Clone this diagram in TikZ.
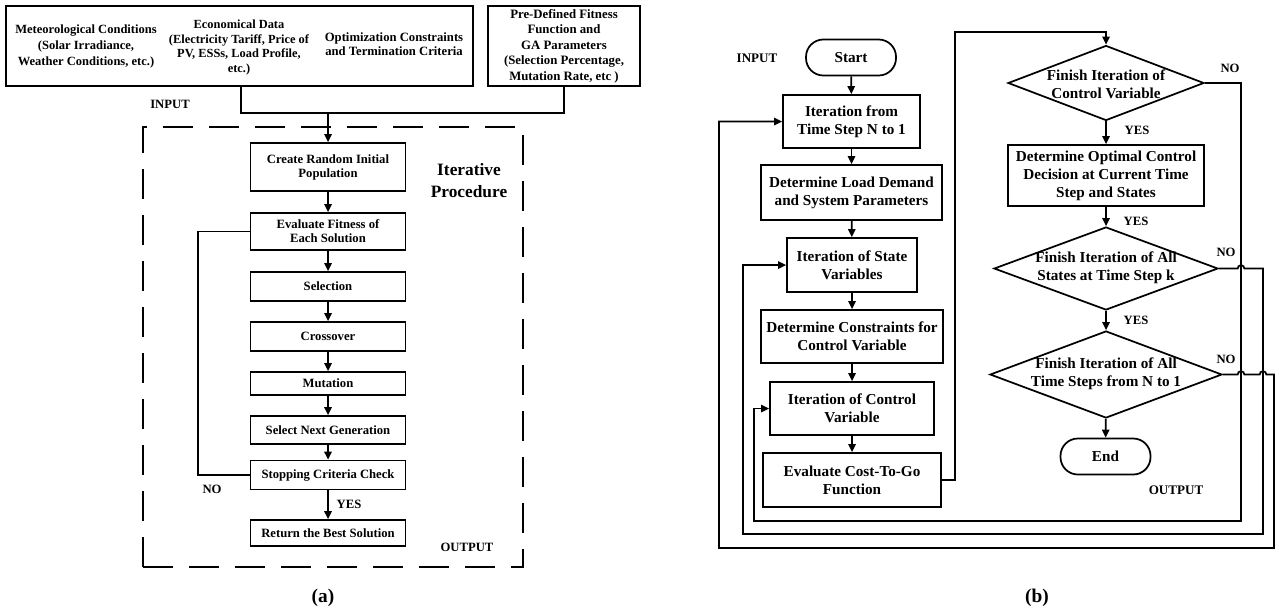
\documentclass[tikz,border=0pt]{standalone}
\usepackage{fontspec}
\setmainfont{Liberation Serif}
\usetikzlibrary{arrows.meta,shapes.geometric}

\tikzset{
  arr/.style={-{Triangle[length=6pt,width=5.5pt]}},
  sz/.style 2 args={minimum width=#1*0.75pt, minimum height=#2*0.75pt},
  box/.style={draw, rectangle, inner sep=0pt, align=center},
  txt/.style={inner sep=0pt, align=center},
  lfont/.style={font=\bfseries\fontsize{9.5}{10.5}\selectfont},
  rfont/.style={font=\bfseries\fontsize{11.4}{13.5}\selectfont},
  tag/.style={inner sep=0pt, font=\bfseries\fontsize{9.5}{11}\selectfont},
  lstep/.style={box, lfont, sz={155}{#1}},
  rstep/.style={box, rfont, minimum height=#1*0.75pt},
  dia/.style={draw, diamond, inner sep=0pt},
  term/.style={draw, rectangle, rounded corners=13pt, inner sep=0pt, rfont, sz={90}{36}},
  subcap/.style={inner sep=0pt, font=\bfseries\fontsize{14.5}{16}\selectfont}
}

\begin{document}
\begin{tikzpicture}[x=0.75pt,y=-0.75pt, line width=1.3pt]
\useasboundingbox (0,0) rectangle (1276,612);

% ---------------- (a) genetic algorithm ----------------
% input boxes
\node[box, sz={467}{80}] (inbox) at (239.5,46) {};
\node[txt, font=\bfseries\fontsize{9.4}{12}\selectfont] (meteo) at (86,46)
  {Meteorological Conditions\\(Solar Irradiance,\\Weather Conditions, etc.)};
\node[txt, font=\bfseries\fontsize{9.3}{11.2}\selectfont] (econ) at (239,47.5)
  {Economical Data\\(Electricity Tariff, Price of\\PV, ESSs, Load Profile,\\etc.)};
\node[txt, font=\bfseries\fontsize{9.5}{10.5}\selectfont] (optc) at (394,44)
  {Optimization Constraints\\and Termination Criteria};
\node[box, sz={152}{80}, font=\bfseries\fontsize{9.6}{11.6}\selectfont] (fitbox) at (564,46)
  {Pre-Defined Fitness\\Function and\\GA Parameters\\(Selection Percentage,\\Mutation Rate, etc )};

\node[tag] (inA) at (170,104) {INPUT};

% iterative procedure frame
\node[draw, dash pattern=on 22.5pt off 12pt, sz={380}{440}, inner sep=0pt] (iterbox) at (333,347) {};
\node[txt, font=\bfseries\fontsize{13}{16.5}\selectfont] (itlbl) at (469,181) {Iterative\\Procedure};

% GA steps
\node[lstep=48] (create)  at (328,167)   {Create Random Initial\\Population};
\node[lstep=37] (evalfit) at (328,231.5) {Evaluate Fitness of\\Each Solution};
\node[lstep=29] (selec)   at (328,286.5) {Selection};
\node[lstep=29] (cross)   at (328,336.5) {Crossover};
\node[lstep=23] (mut)     at (328,383.5) {Mutation};
\node[lstep=28] (selnext) at (328,430)   {Select Next Generation};
\node[lstep=29] (stopc)   at (328,475)   {Stopping Criteria Check};
\node[lstep=26] (retbest) at (328,533)   {Return the Best Solution};

% joining the inputs
\coordinate (jl) at (241,113);
\coordinate (jm) at (328,113);
\draw (inbox.south -| jl) -- (jl) -| (fitbox.south);
\draw[arr] (jm) -- (create.north);

\draw[arr] (create) -- (evalfit);
\draw[arr] (evalfit) -- (selec);
\draw[arr] (selec) -- (cross);
\draw[arr] (cross) -- (mut);
\draw[arr] (mut) -- (selnext);
\draw[arr] (selnext) -- (stopc);
\draw[arr] (stopc) -- (retbest);

\coordinate (lp) at (198,475);
\draw (stopc.west) -- (lp) |- (evalfit.west);

\node[tag] (noA)  at (212,489) {NO};
\node[tag] (yesA) at (349,504) {YES};
\node[tag] (outA) at (467,547) {OUTPUT};
\node[subcap] (capA) at (323,598) {(a)};

% ---------------- (b) dynamic programming ----------------
\node[tag, font=\bfseries\fontsize{9.8}{11}\selectfont] (inB) at (757,58) {INPUT};
\node[term] (start) at (851,57.5) {Start};

\node[rstep=53, minimum width=137*0.75pt] (iterN)  at (851.5,121.5) {Iteration from\\Time Step N to 1};
\node[rstep=55, minimum width=181*0.75pt] (loadD)  at (851.5,192.5) {Determine Load Demand\\and System Parameters};
\node[rstep=54, minimum width=130*0.75pt] (stateI) at (852,265)     {Iteration of State\\Variables};
\node[rstep=53, minimum width=182*0.75pt] (consD)  at (852,336.5)   {Determine Constraints for\\Control Variable};
\node[rstep=53, minimum width=164*0.75pt] (ctrlI)  at (852,408.5)   {Iteration of Control\\Variable};
\node[rstep=54, minimum width=178*0.75pt] (costE)  at (852,480)     {Evaluate Cost-To-Go\\Function};

\node[dia, sz={196}{75}] (d1) at (1106,83) {};
\node[txt, rfont] (d1t) at (1106,84) {Finish Iteration of\\Control Variable};
\node[rstep=61, minimum width=196*0.75pt] (optD) at (1106,175.5)
  {Determine Optimal Control\\Decision at Current Time\\Step and States};
\node[dia, sz={224}{83}] (d2) at (1106,268.5) {};
\node[txt, rfont] (d2t) at (1106,268) {Finish Iteration of All\\States at Time Step k};
\node[dia, sz={232}{87}] (d3) at (1106,374.5) {};
\node[txt, rfont] (d3t) at (1106,374) {Finish Iteration of All\\Time Steps from N to 1};
\node[term] (finish) at (1105.5,456.5) {End};

% main flow
\draw[arr] (start) -- (iterN);
\draw[arr] (iterN) -- (loadD);
\draw[arr] (loadD) -- (stateI);
\draw[arr] (stateI) -- (consD);
\draw[arr] (consD) -- (ctrlI);
\draw[arr] (ctrlI) -- (costE);

\coordinate (t1) at (955,32);
\draw[arr] (costE.east) -| (t1) -| (d1.north);

\draw[arr] (d1) -- (optD);
\draw[arr] (optD) -- (d2);
\draw[arr] (d2) -- (d3);
\draw[arr] (d3) -- (finish);

% feedback loops
\coordinate (c3) at (1241,521);
\coordinate (c2) at (1263,534);
\coordinate (c1) at (1274,548);
\coordinate (l3) at (754,521);
\coordinate (l2) at (743,534);
\coordinate (l1) at (719,548);

\draw[arr] (d1.east) -| (c3) -- (l3) |- (ctrlI.west);
\draw[arr] (d2.east) -- ([xshift=-2.5pt]d2.east -| c3)
  arc[start angle=180, end angle=0, radius=2.5pt] -| (c2) -- (l2) |- (stateI.west);
\draw[arr] (d3.east) -- ([xshift=-2.5pt]d3.east -| c3)
  arc[start angle=180, end angle=0, radius=2.5pt] -- ([xshift=-2.5pt]d3.east -| c2)
  arc[start angle=180, end angle=0, radius=2.5pt] -| (c1) -- (l1) |- (iterN.west);

\node[tag] (yes1) at (1137,130) {YES};
\node[tag] (yes2) at (1136,221) {YES};
\node[tag] (yes3) at (1136,320) {YES};
\node[tag] (no1)  at (1230,68)  {NO};
\node[tag] (no2)  at (1226,252) {NO};
\node[tag] (no3)  at (1226,359) {NO};
\node[tag, font=\bfseries\fontsize{9.8}{11}\selectfont] (outB) at (1176,490) {OUTPUT};
\node[subcap] (capB) at (1037,598) {(b)};
\end{tikzpicture}
\end{document}
